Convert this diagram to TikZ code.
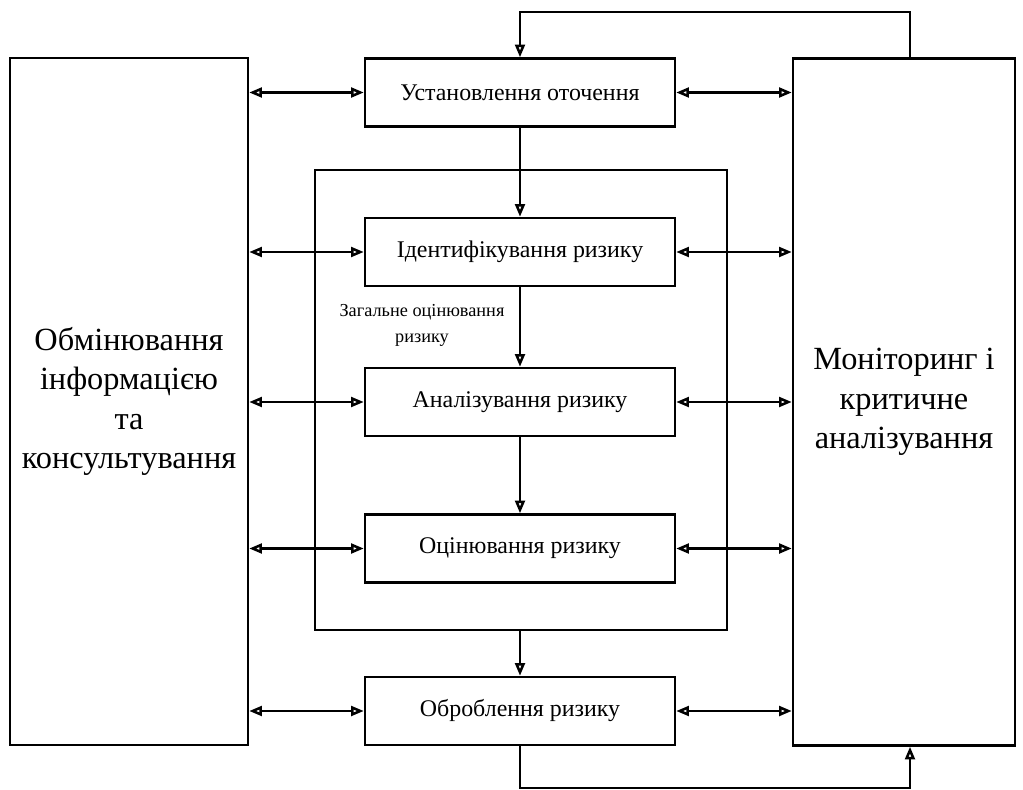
\documentclass[tikz,border=0pt]{standalone}
\usepackage{fontspec}
\setmainfont{Liberation Serif}
\usetikzlibrary{arrows.meta, positioning}

\tikzset{
  stage/.style={rectangle,draw,line width=1.8pt,minimum width=7.75cm,minimum height=1.7cm,font=\fontsize{17}{20}\selectfont},
  side/.style={rectangle,draw,line width=1.8pt,minimum height=17.175cm,align=center,font=\fontsize{23}{28}\selectfont},
  flow/.style={line width=1.8pt,-{Triangle[open,length=9pt,width=7pt]}},
  both/.style={line width=1.8pt,{Triangle[open,length=9pt,width=7pt]}-{Triangle[open,length=9pt,width=7pt]}}
}

\begin{document}
\begin{tikzpicture}
    \useasboundingbox (0,0) rectangle (25.575,-19.75);

    % Бічні блоки
    \node[side,minimum width=5.95cm] (info) at (3.225,-10.0375) {Обмінювання\\інформацією\\та\\консультування};
    \node[side,minimum width=5.55cm] (mon) at (22.6,-10.05) {Моніторинг і\\критичне\\аналізування};

    % Загальне оцінювання ризику
    \draw[line width=1.8pt] (7.875,-4.25) rectangle (18.175,-15.75);
    \node[font=\fontsize{13}{18.5}\selectfont,align=center] (zag) at (10.55,-8.125) {Загальне оцінювання\\ризику};

    % Етапи
    \node[stage] (ust) at (13,-2.3125) {Установлення оточення};
    \node[stage] (ident) at (13,-6.3) {Ідентифікування ризику};
    \node[stage] (anal) at (13,-10.05) {Аналізування ризику};
    \node[stage] (otsin) at (13,-13.7125) {Оцінювання ризику};
    \node[stage] (obrob) at (13,-17.775) {Оброблення ризику};

    % Послідовність
    \draw[flow] (ust) -- (ident);
    \draw[flow] (ident) -- (anal);
    \draw[flow] (anal) -- (otsin);
    \draw[flow] (13,-15.75) -- (obrob);

    % Зв'язки з бічними блоками
    \foreach \s in {ust,ident,anal,otsin,obrob} {
        \draw[both] (info.east |- \s.west) -- (\s.west);
        \draw[both] (\s.east) -- (mon.west |- \s.east);
    }

    % Зворотні зв'язки
    \coordinate (t1) at (22.75,-0.3);
    \coordinate (b1) at (22.75,-19.7);
    \draw[flow] (t1 |- mon.north) -- (t1) -| (ust.north);
    \draw[flow] (obrob.south) |- (b1) -- (b1 |- mon.south);
\end{tikzpicture}
\end{document}
